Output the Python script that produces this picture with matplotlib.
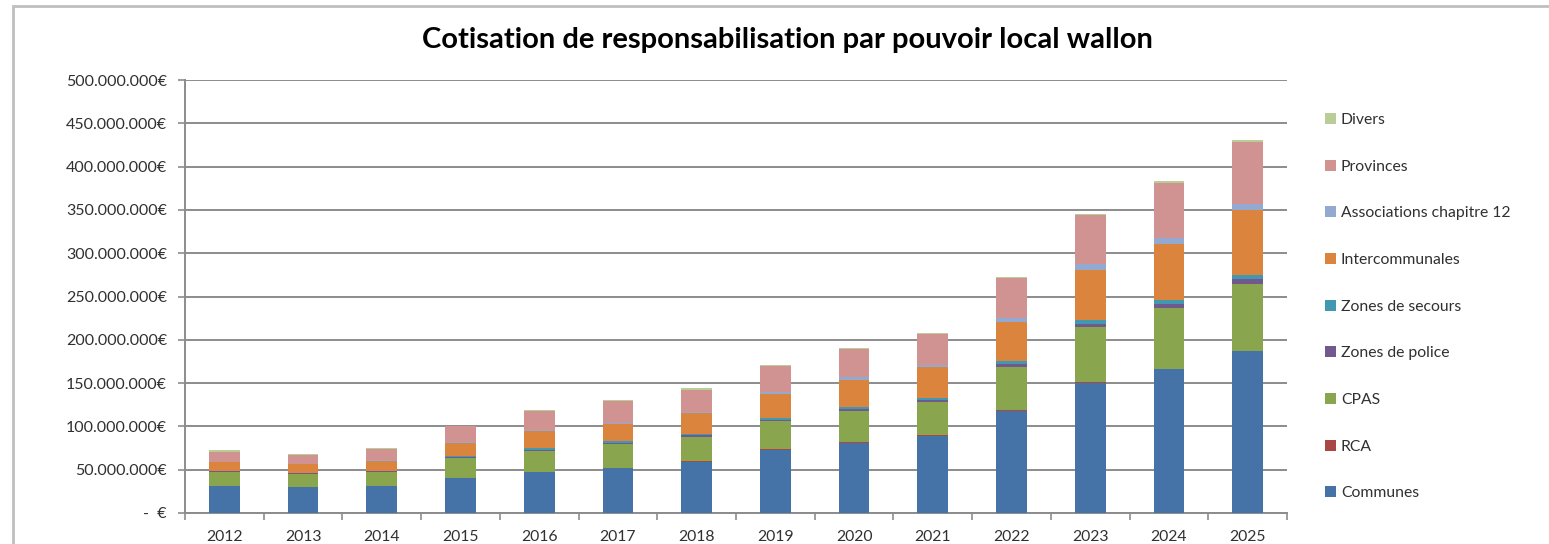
import matplotlib
matplotlib.use("Agg")
import matplotlib.pyplot as plt
from matplotlib.patches import Rectangle
from matplotlib.ticker import FuncFormatter, MultipleLocator
import numpy as np

plt.rcParams["font.family"] = ["Lato", "DejaVu Sans"]

years = ["2012", "2013", "2014", "2015", "2016", "2017", "2018",
         "2019", "2020", "2021", "2022", "2023", "2024", "2025"]

# millions of euros
communes = [30.7, 29.5, 30.7, 39.9, 46.9, 51.9, 59.3, 72.9, 81.4, 89.1, 117.9, 150.3, 165.8, 187.0]
rca = [0.8, 0.7, 0.7, 0.6, 0.6, 0.5, 0.5, 0.5, 0.5, 0.5, 0.5, 0.5, 0.5, 0.5]
cpas = [15.3, 15.0, 16.3, 22.7, 24.2, 27.1, 28.2, 32.8, 35.5, 38.3, 50.5, 64.1, 70.2, 76.8]
police = [2.2, 1.5, 1.2, 1.5, 1.6, 1.6, 1.8, 1.7, 2.2, 2.3, 2.7, 3.0, 5.0, 5.4]
secours = [0.0, 0.0, 0.0, 1.2, 1.9, 2.2, 1.3, 1.8, 3.3, 3.1, 3.8, 4.7, 4.3, 5.4]
intercommunales = [10.0, 9.8, 11.7, 14.7, 19.0, 19.4, 24.8, 27.9, 30.6, 34.9, 45.6, 58.3, 65.2, 75.0]
associations = [0.3, 0.3, 0.3, 1.2, 1.1, 1.2, 1.1, 1.9, 3.1, 3.1, 4.7, 6.2, 6.6, 6.9]
provinces = [11.0, 10.2, 13.1, 18.2, 22.9, 25.1, 25.6, 30.3, 32.5, 35.3, 45.6, 57.2, 63.8, 71.9]
divers = [2.0, 1.7, 1.0, 1.0, 1.2, 1.6, 1.2, 1.2, 1.6, 1.2, 1.1, 1.5, 1.5, 1.6]

series = [
    ("Communes", communes, "#4572A7"),
    ("RCA", rca, "#AA4643"),
    ("CPAS", cpas, "#89A54E"),
    ("Zones de police", police, "#71588F"),
    ("Zones de secours", secours, "#4198AF"),
    ("Intercommunales", intercommunales, "#DB843D"),
    ("Associations chapitre 12", associations, "#93A9CF"),
    ("Provinces", provinces, "#D19392"),
    ("Divers", divers, "#B9CD96"),
]

fig = plt.figure(figsize=(15.49, 5.44), dpi=100)
ax = fig.add_axes([185 / 1549, 1 - 513 / 544, (1287 - 185) / 1549, (513 - 80) / 544])

# outer chart frame
fig.patches.append(Rectangle((13 / 1549, -0.05), 1.1, 1 - 6 / 544 + 0.05,
                             transform=fig.transFigure, fill=False,
                             edgecolor="#bfbfbf", linewidth=2.0))

x = np.arange(len(years))
bottom = np.zeros(len(years))
handles = []
for name, vals, color in series:
    v = np.array(vals) * 1e6
    b = ax.bar(x, v, 0.39, bottom=bottom, color=color, label=name,
               linewidth=0, zorder=3)
    bottom += v
    handles.append(b)

ax.set_xlim(-0.5, len(years) - 0.5)
ax.set_ylim(0, 500e6)
ax.yaxis.set_major_locator(MultipleLocator(50e6))


def euro(v, pos):
    if v == 0:
        return "-  €"
    return f"{int(round(v)):,}".replace(",", ".") + "€"


ax.yaxis.set_major_formatter(FuncFormatter(euro))
ax.grid(axis="y", color="#8c8c8c", linewidth=1.4, zorder=0)
ax.set_xticks(x)
ax.set_xticklabels(years)
ax.set_xticks(np.arange(len(years) + 1) - 0.5, minor=True)
ax.tick_params(axis="x", which="major", length=0, pad=12, labelsize=11.3, labelcolor="#303030")
ax.tick_params(axis="x", which="minor", length=5, color="#8c8c8c", width=1.2)
ax.tick_params(axis="y", length=5, color="#8c8c8c", width=1.2, pad=8,
               labelsize=11.5, labelcolor="#303030")
for s in ["top", "right"]:
    ax.spines[s].set_visible(False)
for s in ["left", "bottom"]:
    ax.spines[s].set_color("#8c8c8c")
    ax.spines[s].set_linewidth(1.4)

fig.text(787 / 1549, 1 - 40 / 544, "Cotisation de responsabilisation par pouvoir local wallon",
         ha="center", va="center", fontsize=21, fontweight="bold", color="#000000")

leg = fig.legend(handles[::-1], [s[0] for s in series][::-1],
                 loc="upper left", bbox_to_anchor=(1311 / 1549, 1 - 99 / 544),
                 frameon=False, fontsize=11.3, handlelength=0.7, handleheight=0.7,
                 handletextpad=0.3, labelspacing=2.08, labelcolor="#303030")

fig.savefig("out.png", dpi=100)
